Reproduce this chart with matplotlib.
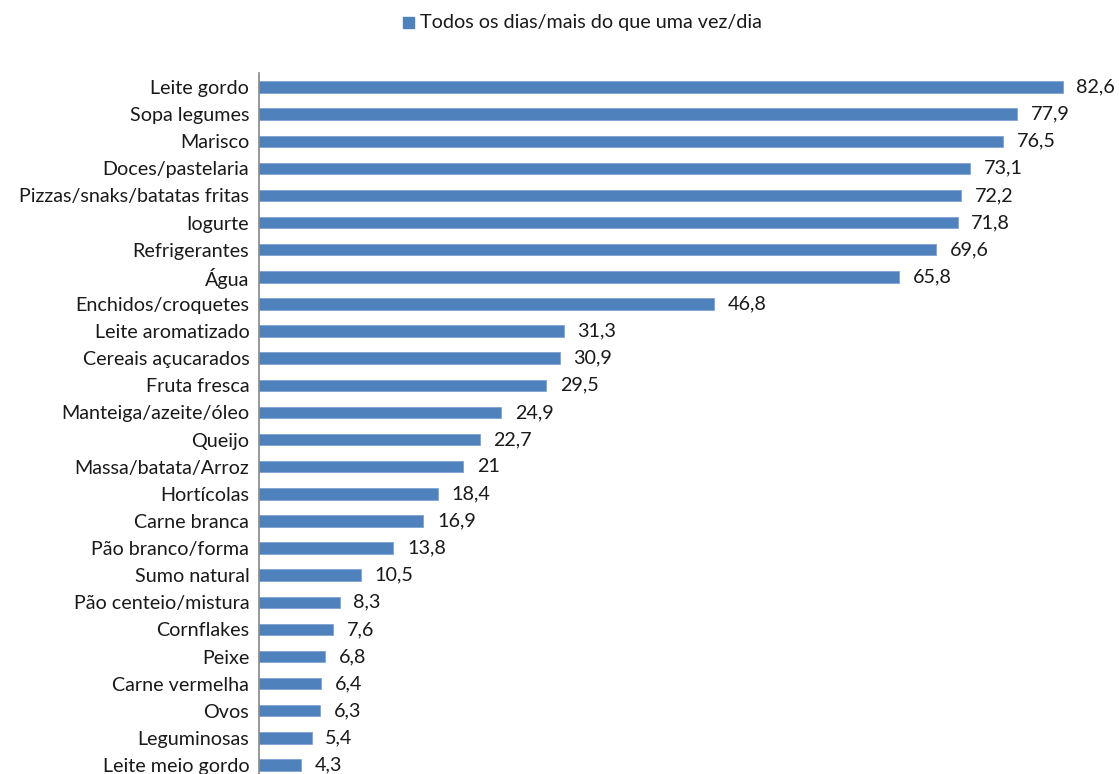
import matplotlib.pyplot as plt
from matplotlib.patches import Rectangle

categorias = ["Leite gordo", "Sopa legumes", "Marisco", "Doces/pastelaria",
              "Pizzas/snaks/batatas fritas", "Iogurte", "Refrigerantes", "Água",
              "Enchidos/croquetes", "Leite aromatizado", "Cereais açucarados",
              "Fruta fresca", "Manteiga/azeite/óleo", "Queijo", "Massa/batata/Arroz",
              "Hortícolas", "Carne branca", "Pão branco/forma", "Sumo natural",
              "Pão centeio/mistura", "Cornflakes", "Peixe", "Carne vermelha",
              "Ovos", "Leguminosas", "Leite meio gordo"]
valores = [82.6, 77.9, 76.5, 73.1, 72.2, 71.8, 69.6, 65.8, 46.8, 31.3, 30.9,
           29.5, 24.9, 22.7, 21, 18.4, 16.9, 13.8, 10.5, 8.3, 7.6, 6.8, 6.4,
           6.3, 5.4, 4.3]
serie = "Todos os dias/mais do que uma vez/dia"

plt.rcParams['font.family'] = ['Lato', 'DejaVu Sans']
cor = '#4F81BD'
fs = 14.2

fig = plt.figure(figsize=(11.19, 7.74), dpi=100)
ax = fig.add_axes([259 / 1119, -4.6 / 774, 860 / 1119, 705.2 / 774])

pos = list(range(len(categorias)))
ax.barh(pos, valores, height=0.42, color=cor, edgecolor='#7FA3D3', linewidth=0.6)
ax.set_ylim(len(categorias) - 0.5, -0.5)
ax.set_xlim(0, 88.4)

ax.set_yticks(pos)
ax.set_yticklabels(categorias, fontsize=fs, color='#1a1a1a')
ax.tick_params(axis='y', length=0, pad=7)
ax.set_xticks([])
for s in ['top', 'right', 'bottom']:
    ax.spines[s].set_visible(False)
ax.spines['left'].set_color('#868686')
ax.spines['left'].set_linewidth(1.2)

for y, v in zip(pos, valores):
    txt = f"{v:g}".replace('.', ',')
    ax.text(v + 1.4, y, txt, va='center', ha='left', fontsize=fs, color='#1a1a1a')

# legenda no topo
fig.patches.append(Rectangle((403 / 1119, 1 - 28 / 774), 11 / 1119, 11 / 774,
                             transform=fig.transFigure, color=cor))
fig.text(420 / 1119, 1 - 22.5 / 774, serie, fontsize=fs, va='center',
         ha='left', color='#1a1a1a')

fig.savefig('out.png', dpi=100)
